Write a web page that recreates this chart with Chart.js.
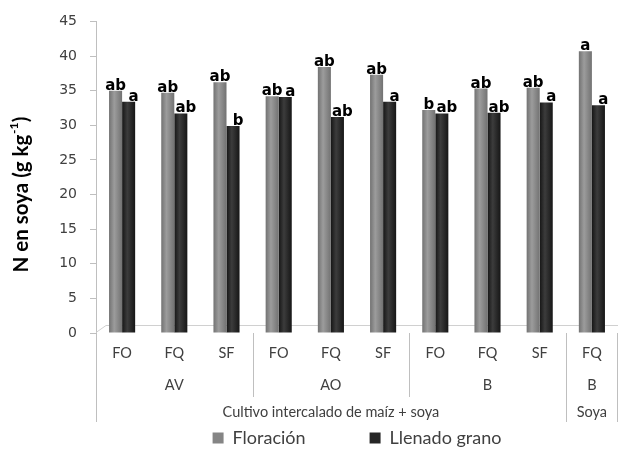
<!DOCTYPE html>
<html>
<head>
<meta charset="utf-8">
<script src="https://cdn.jsdelivr.net/npm/chart.js@4.4.0/dist/chart.umd.min.js"></script>
<style>
  html, body { margin: 0; padding: 0; background: #fff; }
  #caja { width: 620px; height: 449px; }
</style>
</head>
<body>
<div id="caja"><canvas id="nsoya"></canvas></div>
<script>
// N en soya (g kg-1) por manejo, sistema y cultivo
var manejo = ['FO', 'FQ', 'SF', 'FO', 'FQ', 'SF', 'FO', 'FQ', 'SF', 'FQ'];
var sistema = ['AV', 'AO', 'B', 'B'];
var sistemaN = [3, 3, 3, 1];
var cultivo = ['Cultivo intercalado de maíz + soya', 'Soya'];
var cultivoN = [9, 1];

var floracion = [35.0, 34.7, 36.2, 34.2, 38.4, 37.3, 32.2, 35.3, 35.4, 40.7];
var llenado = [33.4, 31.7, 29.9, 34.1, 31.2, 33.4, 31.7, 31.8, 33.3, 32.9];

// letras de comparación de medias
var letrasFloracion = ['ab', 'ab', 'ab', 'ab', 'ab', 'ab', 'b', 'ab', 'ab', 'a'];
var letrasLlenado = ['a', 'ab', 'b', 'a', 'ab', 'a', 'ab', 'ab', 'a', 'a'];

var colores = ['#858585', '#262626'];
var texto = '#404040';
var linea = '#bfbfbf';

// sombreado tipo cilindro para cada barra
function cilindro(claro, oscuro) {
    return function (c) {
        var chart = c.chart;
        var x = chart.scales.x;
        if (!x || c.dataIndex === undefined) return oscuro;
        var ancho = (x.width / manejo.length) * 0.25;
        var centro = x.getPixelForValue(c.dataIndex) + (c.datasetIndex === 0 ? -ancho / 2 : ancho / 2);
        var g = chart.ctx.createLinearGradient(centro - ancho / 2, 0, centro + ancho / 2, 0);
        g.addColorStop(0, oscuro);
        g.addColorStop(0.4, claro);
        g.addColorStop(1, oscuro);
        return g;
    };
}

var extras = {
    id: 'extras',
    beforeDatasetsDraw: function (chart) {
        var ctx = chart.ctx, a = chart.chartArea;
        // piso
        ctx.save();
        ctx.strokeStyle = '#d0d0d0';
        ctx.lineWidth = 1;
        ctx.beginPath();
        ctx.moveTo(a.left, a.bottom - 0.5);
        ctx.lineTo(a.left + 10, a.bottom - 7.5);
        ctx.lineTo(a.right, a.bottom - 7.5);
        ctx.stroke();
        ctx.restore();
    },
    afterDatasetsDraw: function (chart) {
        var ctx = chart.ctx;
        ctx.save();
        ctx.fillStyle = '#000';
        ctx.font = 'bold 15px "DejaVu Sans"';
        ctx.textAlign = 'center';
        ctx.textBaseline = 'alphabetic';
        [letrasFloracion, letrasLlenado].forEach(function (letras, d) {
            chart.getDatasetMeta(d).data.forEach(function (bar, i) {
                ctx.fillText(letras[i], bar.x + (d === 1 ? 5 : 0), bar.y - 1);
            });
        });
        ctx.restore();
    },
    afterDraw: function (chart) {
        var ctx = chart.ctx, a = chart.chartArea, x = chart.scales.x;
        var paso = x.width / manejo.length;
        ctx.save();
        ctx.strokeStyle = linea;
        ctx.lineWidth = 1;
        ctx.fillStyle = texto;
        ctx.textAlign = 'center';
        ctx.textBaseline = 'middle';
        ctx.font = '14.5px Lato';

        // fila de sistema
        var ini = 0;
        sistema.forEach(function (s, k) {
            var izq = a.left + ini * paso, der = izq + sistemaN[k] * paso;
            ctx.fillText(s, (izq + der) / 2, 385);
            ini += sistemaN[k];
        });
        // fila de cultivo
        ini = 0;
        cultivo.forEach(function (s, k) {
            var izq = a.left + ini * paso, der = izq + cultivoN[k] * paso;
            ctx.fillText(s, (izq + der) / 2, 412);
            ini += cultivoN[k];
        });

        // divisiones
        ctx.beginPath();
        ini = 0;
        sistemaN.forEach(function (n) {
            var px = Math.round(a.left + ini * paso) + 0.5;
            ctx.moveTo(px, a.bottom);
            ctx.lineTo(px, 397);
            ini += n;
        });
        ini = 0;
        cultivoN.concat([0]).forEach(function (n) {
            var px = Math.min(Math.round(a.left + ini * paso) + 0.5, a.right - 0.5);
            ctx.moveTo(px, a.bottom);
            ctx.lineTo(px, 422);
            ini += n;
        });
        ctx.stroke();

        // título del eje y
        ctx.fillStyle = '#000';
        ctx.translate(21, 195);
        ctx.rotate(-Math.PI / 2);
        var f1 = 'bold 20.5px Lato', f2 = 'bold 12px Lato';
        var t1 = 'N en soya (g kg', t2 = '-1', t3 = ')';
        ctx.font = f1;
        var w1 = ctx.measureText(t1).width, w3 = ctx.measureText(t3).width;
        ctx.font = f2;
        var w2 = ctx.measureText(t2).width;
        var x0 = -(w1 + w2 + w3) / 2;
        ctx.textAlign = 'left';
        ctx.textBaseline = 'alphabetic';
        ctx.font = f1;
        ctx.fillText(t1, x0, 7);
        ctx.font = f2;
        ctx.fillText(t2, x0 + w1 + 0.5, -3);
        ctx.font = f1;
        ctx.fillText(t3, x0 + w1 + w2 + 1, 7);
        ctx.restore();
    }
};

var grafico = new Chart(document.getElementById('nsoya'), {
    type: 'bar',
    data: {
        labels: manejo,
        datasets: [{
            label: 'Floración',
            data: floracion,
            backgroundColor: cilindro('#9c9c9c', '#727272')
        }, {
            label: 'Llenado grano',
            data: llenado,
            backgroundColor: cilindro('#3c3c3c', '#161616')
        }]
    },
    options: {
        responsive: true,
        maintainAspectRatio: false,
        animation: false,
        layout: { padding: { top: 12, right: 2, left: 0, bottom: 0 } },
        datasets: {
            bar: { categoryPercentage: 0.5, barPercentage: 1.0 }
        },
        scales: {
            x: {
                grid: { display: false },
                border: { display: false },
                ticks: { color: texto, font: { family: 'Lato', size: 14.5 }, padding: 4, maxRotation: 0 },
                afterFit: function (s) { s.height = 32; }
            },
            y: {
                min: 0,
                max: 45,
                ticks: { stepSize: 5, color: texto, font: { family: 'DejaVu Sans', size: 14 }, padding: 13 },
                grid: { drawOnChartArea: false, tickLength: 6, color: linea },
                border: { color: linea },
                afterFit: function (s) { s.width = 96; }
            }
        },
        plugins: {
            tooltip: { enabled: false },
            legend: {
                position: 'bottom',
                fullSize: false,
                maxHeight: 84,
                labels: {
                    boxWidth: 11,
                    boxHeight: 11,
                    padding: 64,
                    color: texto,
                    font: { family: 'Lato', size: 18 },
                    generateLabels: function (chart) {
                        var items = Chart.defaults.plugins.legend.labels.generateLabels(chart);
                        items.forEach(function (it, i) {
                            it.fillStyle = colores[i];
                            it.strokeStyle = colores[i];
                            it.lineWidth = 0;
                        });
                        return items;
                    }
                }
            }
        }
    },
    plugins: [extras]
});
</script>
</body>
</html>
